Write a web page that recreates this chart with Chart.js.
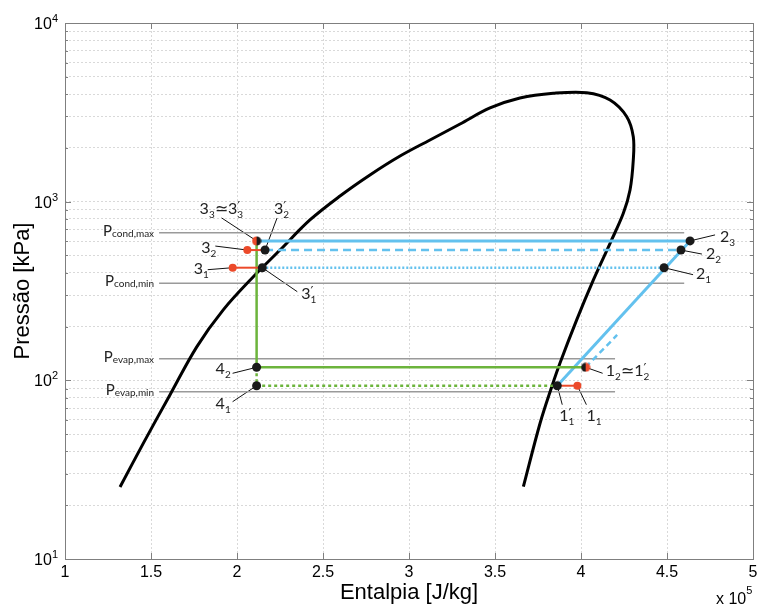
<!DOCTYPE html>
<html>
<head>
<meta charset="utf-8">
<script src="https://cdn.jsdelivr.net/npm/chart.js@4.4.1/dist/chart.umd.min.js"></script>
<style>
  html, body { margin: 0; padding: 0; background: #fff; }
  #wrap { width: 759px; height: 606px; }
</style>
</head>
<body>
<div id="wrap"><canvas id="c" width="759" height="606"></canvas></div>
<script>
// saturation dome, h in 1e5 J/kg, p in kPa
var domeH = [1.320, 1.455, 1.610, 1.766, 1.920, 2.095, 2.250, 2.424, 2.599, 2.773, 2.948, 3.122, 3.297, 3.471, 3.645, 3.839, 4.033, 4.169, 4.266, 4.304, 4.304, 4.285, 4.246, 4.169, 4.072, 3.975, 3.878, 3.830, 3.762, 3.665];
var domeP = [25.3, 44.4, 82.8, 154, 248, 380, 536, 790, 1076, 1411, 1801, 2215, 2721, 3344, 3804, 4042, 4073, 3707, 2990, 2310, 1711, 1162, 861, 585, 365, 218, 125, 92.1, 57.5, 25.4];

// pressure bounds
var boundNames = ['cond,max', 'cond,min', 'evap,max', 'evap,min'];
var boundP = [670, 349, 132, 86.4];
var boundFrom = 1.547;
var boundTo = [4.60, 4.60, 4.198, 4.198];

// condenser side, index 0..2 -> cycle 1..3
var condP = [427, 536, 603];
var h3 = [1.975, 2.060, 2.114];   // 3_i
var h3s = [2.147, 2.163, 2.114];  // 3_i'
var h2 = [4.483, 4.581, 4.634];   // 2_i

// evaporator side, index 0..1 -> cycle 1..2
var evapP = [93.3, 118.3];
var h4 = [2.114, 2.114];          // 4_i
var h1 = [3.979, 4.027];          // 1_i
var h1s = [3.862, 4.027];         // 1_i'
var tipH = 4.21, tipP = 179.4;    // end of dashed compression line

var xTicks = [1, 1.5, 2, 2.5, 3, 3.5, 4, 4.5, 5];
var yMajor = [10, 100, 1000, 10000];

var BLUE = '#63c1ee', GREEN = '#6cb43c', RED = '#ec4a2a', GRAY = '#9a9a9a';

var yTicks = [];
yMajor.forEach(function (d, i) {
  yTicks.push(d);
  if (i < yMajor.length - 1) for (var m = 2; m <= 9; m++) yTicks.push(d * m);
});

function pts(xs, ys) {
  return xs.map(function (v, i) { return {x: v, y: ys[i]}; });
}
function seg(data, color, width, dash) {
  return {data: data, borderColor: color, borderWidth: width, borderDash: dash || [],
          pointRadius: 0, fill: false, tension: 0, borderCapStyle: 'butt'};
}

function halfDot(left, right) {
  var c = document.createElement('canvas');
  c.width = 10; c.height = 10;
  var g = c.getContext('2d');
  g.fillStyle = right; g.beginPath(); g.arc(5, 5, 4.6, -Math.PI / 2, Math.PI / 2); g.fill();
  g.fillStyle = left; g.beginPath(); g.arc(5, 5, 4.6, Math.PI / 2, Math.PI * 1.5); g.fill();
  return c;
}

var datasets = [];
// markers on top
datasets.push({data: [{x: h3[2], y: condP[2]}, {x: h1s[1], y: evapP[1]}], showLine: false,
  pointStyle: [halfDot(RED, '#1a1a1a'), halfDot('#1a1a1a', RED)], pointRadius: 5});
datasets.push({data: [{x: h3s[0], y: condP[0]}, {x: h3s[1], y: condP[1]},
  {x: h2[0], y: condP[0]}, {x: h2[1], y: condP[1]}, {x: h2[2], y: condP[2]},
  {x: h4[0], y: evapP[0]}, {x: h4[1], y: evapP[1]}, {x: h1s[0], y: evapP[0]}],
  showLine: false, pointRadius: 4.5, pointBackgroundColor: '#1a1a1a', pointBorderWidth: 0});
datasets.push({data: [{x: h3[0], y: condP[0]}, {x: h3[1], y: condP[1]}, {x: h1[0], y: evapP[0]}],
  showLine: false, pointRadius: 4, pointBackgroundColor: RED, pointBorderWidth: 0});
// red lines
datasets.push(seg(pts([h3[1], h3s[1]], [condP[1], condP[1]]), RED, 2));
datasets.push(seg(pts([h3[0], h3s[0]], [condP[0], condP[0]]), RED, 2));
datasets.push(seg(pts([h1s[0], h1[0]], [evapP[0], evapP[0]]), RED, 2));
// green: expansion + evaporation
datasets.push(seg(pts([h3[2], h4[1], h1[1]], [condP[2], evapP[1], evapP[1]]), GREEN, 2.5));
datasets.push(seg(pts([h4[1], h4[0], h1s[0]], [evapP[1], evapP[0], evapP[0]]), GREEN, 2.5, [3, 3]));
// blue: condensation + compression
datasets.push(seg(pts([h3[2], h2[2]], [condP[2], condP[2]]), BLUE, 3));
datasets.push(seg(pts([h3s[1], h2[1]], [condP[1], condP[1]]), BLUE, 2.5, [8, 5]));
datasets.push(seg(pts([h3s[0], h2[0]], [condP[0], condP[0]]), BLUE, 2.5, [2, 2]));
datasets.push(seg(pts([h1s[0], h2[2]], [evapP[0], condP[2]]), BLUE, 3));
datasets.push(seg(pts([h1[1], tipH], [evapP[1], tipP]), BLUE, 2.5, [6, 4]));
// dome
var dome = seg(pts(domeH, domeP), '#000', 3);
dome.tension = 0.35;
datasets.push(dome);
// pressure bounds
boundP.forEach(function (p, i) {
  datasets.push(seg(pts([boundFrom, boundTo[i]], [p, p]), GRAY, 1.5));
});

// labels: anchor (data) + leader end offset + text offset (px)
var notes = [
  {x: h3[2], y: condP[2], lx: -35, ly: -23, tx: -57, ty: -27, t: "3_3≃3_3'"},
  {x: h3s[1], y: condP[1], lx: 12, ly: -32, tx: 9, ty: -36, t: "3_2'"},
  {x: h3[1], y: condP[1], lx: -32, ly: -4, tx: -46, ty: 3, t: "3_2"},
  {x: h3[0], y: condP[0], lx: -25, ly: 2, tx: -39, ty: 6, t: "3_1"},
  {x: h3s[0], y: condP[0], lx: 35, ly: 24, tx: 39, ty: 31, t: "3_1'"},
  {x: h4[1], y: evapP[1], lx: -24, ly: 6, tx: -41, ty: 7, t: "4_2"},
  {x: h4[0], y: evapP[0], lx: -24, ly: 16, tx: -41, ty: 23, t: "4_1"},
  {x: h2[2], y: condP[2], lx: 25, ly: -6, tx: 30, ty: 1, t: "2_3"},
  {x: h2[1], y: condP[1], lx: 21, ly: 4, tx: 25, ty: 9, t: "2_2"},
  {x: h2[0], y: condP[0], lx: 29, ly: 7, tx: 32, ty: 11, t: "2_1"},
  {x: h1[1], y: evapP[1], lx: 17, ly: 6, tx: 20, ty: 9, t: "1_2≃1_2'"},
  {x: h1s[0], y: evapP[0], lx: 5, ly: 19, tx: 2, ty: 35, t: "1_1'"},
  {x: h1[0], y: evapP[0], lx: 9, ly: 19, tx: 9, ty: 35, t: "1_1"}
];

function parse(str) {
  var segs = [], i = 0;
  while (i < str.length) {
    var c = str[i];
    if (c === '_' || c === '^') {
      var t;
      if (str[i + 1] === '{') { var j = str.indexOf('}', i); t = str.slice(i + 2, j); i = j + 1; }
      else { t = str[i + 1]; i += 2; }
      segs.push({text: t, kind: c === '_' ? 'sub' : 'sup'});
    } else if (c === "'") {
      segs.push({text: '\u2032', kind: 'prime'}); i++;
    } else {
      var k = i;
      while (k < str.length && "_^'".indexOf(str[k]) < 0) k++;
      segs.push({text: str.slice(i, k), kind: 'main'}); i = k;
    }
  }
  return segs;
}

function drawRich(ctx, str, x, y, o) {
  var segs = parse(str);
  var fonts = {
    main: o.size + 'px ' + o.family,
    sub: o.small + 'px ' + o.family,
    sup: o.small + 'px ' + o.family,
    prime: Math.round(o.size * 0.8) + 'px "DejaVu Sans", sans-serif'
  };
  var dys = {main: 0, sub: o.subDy, sup: o.supDy, prime: o.primeDy || o.supDy};
  ctx.textAlign = 'left';
  ctx.textBaseline = 'alphabetic';
  var total = 0, run = 0;
  segs.forEach(function (s) {
    ctx.font = fonts[s.kind];
    var w = ctx.measureText(s.text).width;
    if (s.kind === 'main') { total += run + w; run = 0; } else run = Math.max(run, w);
  });
  total += run;
  var cx = o.align === 'right' ? x - total : x;
  run = 0;
  segs.forEach(function (s) {
    ctx.font = fonts[s.kind];
    if (s.kind === 'main') {
      cx += run; run = 0;
      ctx.fillText(s.text, cx, y);
      cx += ctx.measureText(s.text).width;
    } else {
      ctx.fillText(s.text, cx, y + dys[s.kind]);
      run = Math.max(run, ctx.measureText(s.text).width);
    }
  });
}

var overlay = {
  id: 'overlay',
  beforeDatasetsDraw: function (chart) {
    var ctx = chart.ctx, x = chart.scales.x, y = chart.scales.y;
    ctx.save();
    ctx.strokeStyle = '#111';
    ctx.lineWidth = 1;
    notes.forEach(function (n) {
      var px = x.getPixelForValue(n.x), py = y.getPixelForValue(n.y);
      ctx.beginPath();
      ctx.moveTo(px, py);
      ctx.lineTo(px + n.lx, py + n.ly);
      ctx.stroke();
    });
    ctx.restore();
  },
  afterDraw: function (chart) {
    var ctx = chart.ctx, a = chart.chartArea, x = chart.scales.x, y = chart.scales.y;
    ctx.save();
    // box and inner ticks
    ctx.strokeStyle = '#7f7f7f';
    ctx.lineWidth = 1;
    ctx.strokeRect(Math.round(a.left) + 0.5, Math.round(a.top) + 0.5,
      Math.round(a.right - a.left), Math.round(a.bottom - a.top));
    ctx.beginPath();
    xTicks.forEach(function (v) {
      var px = Math.round(x.getPixelForValue(v)) + 0.5;
      ctx.moveTo(px, a.bottom); ctx.lineTo(px, a.bottom - 6);
      ctx.moveTo(px, a.top); ctx.lineTo(px, a.top + 6);
    });
    yTicks.forEach(function (v) {
      var py = Math.round(y.getPixelForValue(v)) + 0.5;
      var len = yMajor.indexOf(v) >= 0 ? 6 : 3;
      ctx.moveTo(a.left, py); ctx.lineTo(a.left + len, py);
      ctx.moveTo(a.right, py); ctx.lineTo(a.right - len, py);
    });
    ctx.stroke();

    // y tick labels
    ctx.fillStyle = '#000';
    var sans = '"Liberation Sans", Arial, sans-serif';
    yMajor.forEach(function (v) {
      var py = y.getPixelForValue(v);
      drawRich(ctx, '10^' + Math.round(Math.log10(v)), 58, py + 6,
        {family: sans, size: 16, small: 11, subDy: 0, supDy: -7, align: 'right'});
    });
    drawRich(ctx, 'x 10^5', 716, 604, {family: sans, size: 16, small: 11, subDy: 0, supDy: -10});

    // axis titles
    ctx.font = '22px ' + sans;
    ctx.textAlign = 'center';
    ctx.textBaseline = 'middle';
    ctx.fillText('Entalpia [J/kg]', (a.left + a.right) / 2, 593);
    ctx.save();
    ctx.translate(23, (a.top + a.bottom) / 2);
    ctx.rotate(-Math.PI / 2);
    ctx.fillText('Pressão [kPa]', 0, 0);
    ctx.restore();

    // pressure bound labels
    ctx.fillStyle = '#222';
    var lato = '"Lato", "DejaVu Sans", sans-serif';
    boundP.forEach(function (p, i) {
      var px = x.getPixelForValue(boundFrom), py = y.getPixelForValue(p);
      drawRich(ctx, 'P_{' + boundNames[i] + '}', px - 5, py + 3,
        {family: lato, size: 15, small: 10, subDy: 1, supDy: -7, align: 'right'});
    });
    // state labels
    notes.forEach(function (n) {
      var px = x.getPixelForValue(n.x), py = y.getPixelForValue(n.y);
      drawRich(ctx, n.t, px + n.tx, py + n.ty,
        {family: lato, size: 16, small: 10, subDy: 4, supDy: -9, primeDy: -4, align: 'left'});
    });
    ctx.restore();
  }
};

new Chart(document.getElementById('c'), {
  type: 'line',
  data: {datasets: datasets},
  options: {
    responsive: false,
    animation: false,
    layout: {padding: {top: 23, right: 6, left: 0, bottom: 0}},
    plugins: {legend: {display: false}, tooltip: {enabled: false}},
    scales: {
      x: {
        type: 'linear', min: 1, max: 5,
        ticks: {color: '#000', padding: 4, maxRotation: 0, autoSkip: false,
                font: {family: '"Liberation Sans", Arial, sans-serif', size: 16},
                callback: function (v) { return String(v); }},
        grid: {color: '#d9d9d9', drawTicks: false},
        border: {display: false, dash: [2, 2]},
        afterBuildTicks: function (s) { s.ticks = xTicks.map(function (v) { return {value: v}; }); },
        afterFit: function (s) { s.height = 47; s.paddingLeft = 0; s.paddingRight = 0; }
      },
      y: {
        type: 'logarithmic', min: 10, max: 10000,
        ticks: {display: false},
        grid: {color: '#d9d9d9', drawTicks: false},
        border: {display: false, dash: [2, 2]},
        afterBuildTicks: function (s) { s.ticks = yTicks.map(function (v) { return {value: v}; }); },
        afterFit: function (s) { s.width = 65; }
      }
    }
  },
  plugins: [overlay]
});
</script>
</body>
</html>
